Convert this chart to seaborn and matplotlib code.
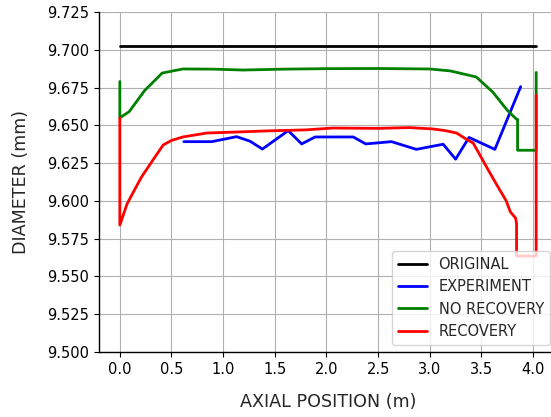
import matplotlib
matplotlib.use("Agg")
import matplotlib.pyplot as plt
import seaborn as sns
import pandas as pd

# ---- data ----
orig_x = [0.0, 4.03]
orig_y = [9.7025, 9.7025]

exp_x = [0.62, 0.89, 1.13, 1.26, 1.38, 1.63, 1.76, 1.89, 2.26, 2.38, 2.63, 2.87,
         3.13, 3.25, 3.38, 3.63, 3.88]
exp_y = [9.6392, 9.6392, 9.6425, 9.6395, 9.6343, 9.6465, 9.6377, 9.6423, 9.6423,
         9.6377, 9.6392, 9.6341, 9.6375, 9.6276, 9.6420, 9.6341, 9.6756]

nr_x = [0.0, 0.0, 0.09, 0.24, 0.41, 0.61, 0.9, 1.19, 1.6, 2.0, 2.5, 3.0, 3.2,
        3.45, 3.61, 3.75, 3.84, 3.85, 3.85, 4.03, 4.03]
nr_y = [9.679, 9.655, 9.659, 9.673, 9.6846, 9.6873, 9.6872, 9.6866, 9.6872,
        9.6875, 9.6876, 9.6873, 9.686, 9.682, 9.672, 9.660, 9.654, 9.654,
        9.6335, 9.6335, 9.685]

rec_x = [0.0, 0.0, 0.07, 0.14, 0.21, 0.32, 0.42, 0.5, 0.61, 0.84, 1.1, 1.42,
         1.8, 2.06, 2.5, 2.8, 3.03, 3.15, 3.26, 3.35, 3.42, 3.48, 3.55, 3.62,
         3.68, 3.74, 3.78, 3.83, 3.84, 3.84, 4.03, 4.03]
rec_y = [9.655, 9.584, 9.598, 9.607, 9.6158, 9.627, 9.637, 9.640, 9.6423,
         9.6449, 9.6455, 9.6463, 9.647, 9.6482, 9.648, 9.6485, 9.6476, 9.6465,
         9.6449, 9.641, 9.6383, 9.631, 9.6224, 9.614, 9.607, 9.600, 9.5927,
         9.5887, 9.585, 9.5635, 9.5635, 9.670]

labels = ["ORIGINAL", "EXPERIMENT", "NO RECOVERY", "RECOVERY"]
xticks = [0.0, 0.5, 1.0, 1.5, 2.0, 2.5, 3.0, 3.5, 4.0]
yticks = [9.500, 9.525, 9.550, 9.575, 9.600, 9.625, 9.650, 9.675, 9.700, 9.725]

# ---- style ----
sns.set_style("whitegrid", {
    "axes.edgecolor": "black",
    "grid.color": "#b0b0b0",
    "xtick.bottom": True,
    "ytick.left": True,
    "xtick.color": "black",
    "ytick.color": "black",
})
plt.rcParams["font.family"] = ["DejaVu Sans"]

fig = plt.figure(figsize=(5.51, 4.17), dpi=100)
ax = fig.add_axes([99 / 551, 65 / 417, (557 - 99) / 551, 340 / 417])

series = [
    (orig_x, orig_y, "black", labels[0]),
    (exp_x, exp_y, "blue", labels[1]),
    (nr_x, nr_y, "green", labels[2]),
    (rec_x, rec_y, "red", labels[3]),
]
for xs, ys, col, lab in series:
    df = pd.DataFrame({"x": xs, "y": ys})
    sns.lineplot(data=df, x="x", y="y", sort=False, estimator=None,
                 color=col, linewidth=2, label=lab, ax=ax)

ax.set_xlim(-0.2015, 4.2315)
ax.set_ylim(9.5, 9.725)
ax.set_xticks(xticks)
ax.set_yticks(yticks)
ax.set_xticklabels([f"{t:.1f}" for t in xticks], fontsize=10.5)
ax.set_yticklabels([f"{t:.3f}" for t in yticks], fontsize=10.5)
ax.grid(True, color="#b0b0b0", linewidth=0.8)
for s in ["top", "right"]:
    ax.spines[s].set_visible(False)
for s in ["left", "bottom"]:
    ax.spines[s].set_color("black")
    ax.spines[s].set_linewidth(1.0)
ax.tick_params(axis="both", length=3.5, width=0.8, color="black")

ax.set_xlabel("AXIAL POSITION (m)", fontsize=12.6, labelpad=12)
ax.set_ylabel("DIAMETER (mm)", fontsize=12.6, labelpad=12)

ax.legend(loc="lower right", fontsize=10.5, frameon=True, framealpha=0.8,
          edgecolor="0.8", fancybox=True)

fig.savefig("out.png", dpi=100)
